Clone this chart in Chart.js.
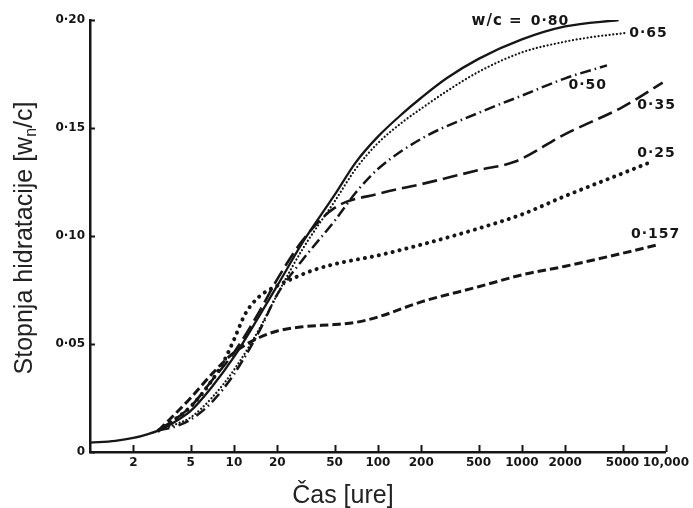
<!DOCTYPE html>
<html>
<head>
<meta charset="utf-8">
<script src="https://cdn.jsdelivr.net/npm/chart.js@4"></script>
<style>
  html, body { margin: 0; padding: 0; background: #fff; }
  #wrap { width: 693px; height: 508px; }
</style>
</head>
<body>
<div id="wrap"><canvas id="hydChart" width="693" height="508"></canvas></div>
<script>
// time [h] and degree of hydration for each w/c ratio
const hours080 = [1, 1.5, 2, 2.5, 3, 4, 5, 7, 10, 15, 20, 30, 50, 70, 100, 150, 200, 300, 500, 1000, 2000, 4700];
const deg080   = [0.0043, 0.0052, 0.0065, 0.0082, 0.0100, 0.0145, 0.019, 0.030, 0.044, 0.063, 0.077, 0.097, 0.119, 0.134, 0.146, 0.157, 0.164, 0.173, 0.182, 0.191, 0.197, 0.200];

const hours065 = [3, 4, 5, 7, 10, 15, 20, 30, 50, 70, 100, 150, 200, 300, 500, 1000, 2000, 3000, 5300];
const deg065   = [0.010, 0.013, 0.016, 0.025, 0.038, 0.057, 0.073, 0.094, 0.116, 0.131, 0.143, 0.153, 0.159, 0.167, 0.176, 0.185, 0.190, 0.192, 0.194];

const hours050 = [3, 4, 5, 7, 10, 15, 20, 30, 50, 70, 100, 200, 500, 1000, 2000, 3900];
const deg050   = [0.010, 0.012, 0.015, 0.023, 0.036, 0.056, 0.073, 0.089, 0.107, 0.120, 0.131, 0.145, 0.157, 0.165, 0.173, 0.179];

const hours035 = [3, 5, 7, 10, 15, 20, 30, 50, 100, 200, 500, 900, 2000, 5000, 9500];
const deg035   = [0.010, 0.021, 0.033, 0.046, 0.065, 0.080, 0.098, 0.113, 0.1195, 0.124, 0.1305, 0.1345, 0.1472, 0.1597, 0.171];

const hours025 = [3, 5, 7, 8.5, 10, 12, 15, 20, 27, 35, 50, 100, 200, 500, 1000, 2000, 5000, 7700];
const deg025   = [0.010, 0.021, 0.033, 0.042, 0.052, 0.064, 0.072, 0.077, 0.081, 0.084, 0.087, 0.091, 0.096, 0.1035, 0.110, 0.1185, 0.129, 0.134];

const hours0157 = [3, 5, 7, 10, 15, 20, 30, 50, 70, 100, 200, 500, 1000, 2000, 5000, 8900];
const deg0157   = [0.010, 0.025, 0.036, 0.046, 0.053, 0.056, 0.058, 0.059, 0.060, 0.0625, 0.0695, 0.0765, 0.082, 0.086, 0.092, 0.096];

const ratioLabels = ['0·80', '0·65', '0·50', '0·35', '0·25', '0·157'];
const xTicks = [2, 5, 10, 20, 50, 100, 200, 500, 1000, 2000, 5000, 10000];
const yTicks = [0, 0.05, 0.10, 0.15, 0.20];

const ink = '#161616';
const pts = (hs, ds) => hs.map((h, i) => ({ x: h, y: ds[i] }));

function series(hs, ds, width, dash, cap) {
    return {
        data: pts(hs, ds),
        borderColor: ink,
        borderWidth: width,
        borderDash: dash,
        borderCapStyle: cap,
        pointRadius: 0,
        cubicInterpolationMode: 'monotone',
        fill: false
    };
}

// text next to the curve ends, plus axis titles and inner tick marks
const decor = {
    id: 'decor',
    afterDraw(chart) {
        const ctx = chart.ctx;
        const { left, right, top, bottom } = chart.chartArea;
        const xs = chart.scales.x, ys = chart.scales.y;
        ctx.save();

        // tick marks pointing into the plot
        ctx.strokeStyle = ink;
        ctx.lineWidth = 2;
        xTicks.forEach(v => {
            const px = Math.round(xs.getPixelForValue(v)) + 0.5;
            ctx.beginPath(); ctx.moveTo(px, bottom); ctx.lineTo(px, bottom - 7); ctx.stroke();
        });
        yTicks.forEach(v => {
            const py = Math.round(ys.getPixelForValue(v)) + 0.5;
            ctx.beginPath(); ctx.moveTo(left, py); ctx.lineTo(left + 5, py); ctx.stroke();
        });

        // curve labels
        const ends = chart.data.datasets.map(d => {
            const last = d.data[d.data.length - 1];
            return { x: xs.getPixelForValue(last.x), y: ys.getPixelForValue(last.y) };
        });
        ctx.fillStyle = ink;
        ctx.textBaseline = 'middle';
        ctx.letterSpacing = '1px';
        ctx.font = '600 14px "DejaVu Sans"';

        ctx.textAlign = 'left';
        ctx.fillText(ratioLabels[0], ends[0].x - 88, ends[0].y + 1);
        ctx.font = 'bold 15px "DejaVu Sans"';
        ctx.textAlign = 'right';
        ctx.fillText('w/c =', ends[0].x - 96, ends[0].y + 1);

        ctx.font = '600 14px "DejaVu Sans"';
        ctx.textAlign = 'left';
        ctx.fillText(ratioLabels[1], ends[1].x + 3, ends[1].y);
        ctx.textAlign = 'right';
        ctx.fillText(ratioLabels[2], ends[2].x, ends[2].y + 20);
        ctx.textAlign = 'center';
        ctx.fillText(ratioLabels[3], ends[3].x - 6, ends[3].y + 23);
        ctx.fillText(ratioLabels[4], ends[4].x + 7, ends[4].y - 9);
        ctx.fillText(ratioLabels[5], ends[5].x - 3, ends[5].y - 10);
        ctx.letterSpacing = '0px';

        // axis titles
        ctx.fillStyle = '#222';
        ctx.font = '25px "Liberation Sans"';
        ctx.textAlign = 'center';
        ctx.textBaseline = 'alphabetic';
        ctx.fillText('Čas [ure]', (left + right) / 2 - 35, 503);

        ctx.translate(32, (top + bottom) / 2 + 2);
        ctx.rotate(-Math.PI / 2);
        const a = 'Stopnja hidratacije [w', sub = 'n', b = '/c]';
        ctx.font = '25px "Liberation Sans"';
        const wa = ctx.measureText(a).width, wb = ctx.measureText(b).width;
        ctx.font = '16px "Liberation Sans"';
        const ws = ctx.measureText(sub).width;
        const x0 = -(wa + ws + wb) / 2;
        ctx.textAlign = 'left';
        ctx.font = '25px "Liberation Sans"';
        ctx.fillText(a, x0, 0);
        ctx.font = '16px "Liberation Sans"';
        ctx.fillText(sub, x0 + wa, 4);
        ctx.font = '25px "Liberation Sans"';
        ctx.fillText(b, x0 + wa + ws, 0);
        ctx.restore();
    }
};

new Chart(document.getElementById('hydChart'), {
    type: 'line',
    data: {
        datasets: [
            series(hours080, deg080, 2.3, [], 'butt'),
            series(hours065, deg065, 2.2, [0.1, 3.6], 'round'),
            series(hours050, deg050, 2.5, [11, 4, 1.5, 4], 'butt'),
            series(hours035, deg035, 2.6, [15, 6], 'butt'),
            series(hours025, deg025, 4, [0.1, 7], 'round'),
            series(hours0157, deg0157, 3, [8.5, 4], 'butt')
        ]
    },
    options: {
        responsive: false,
        animation: false,
        layout: { padding: { top: 20, right: 25, left: 0, bottom: 0 } },
        plugins: { legend: { display: false }, tooltip: { enabled: false } },
        scales: {
            x: {
                type: 'logarithmic',
                min: 1,
                max: 10000,
                grid: { display: false, drawTicks: false, tickLength: 0 },
                border: { display: true, color: ink, width: 2.5 },
                afterBuildTicks: s => { s.ticks = xTicks.map(v => ({ value: v })); },
                afterFit: s => { s.height = 56; },
                ticks: {
                    autoSkip: false,
                    maxRotation: 0,
                    padding: 4,
                    color: ink,
                    font: { family: 'DejaVu Sans', size: 12, weight: 'bold' },
                    callback: v => v === 10000 ? '10,000' : String(v)
                }
            },
            y: {
                min: 0,
                max: 0.2,
                grid: { display: false, drawTicks: false, tickLength: 0 },
                border: { display: true, color: ink, width: 2.5 },
                afterBuildTicks: s => { s.ticks = yTicks.map(v => ({ value: v })); },
                afterFit: s => { s.width = 90; },
                ticks: {
                    padding: 5,
                    color: ink,
                    font: { family: 'DejaVu Sans', size: 12, weight: 'bold' },
                    callback: v => v === 0 ? '0' : v.toFixed(2).replace('.', '·')
                }
            }
        }
    },
    plugins: [decor]
});
</script>
</body>
</html>
